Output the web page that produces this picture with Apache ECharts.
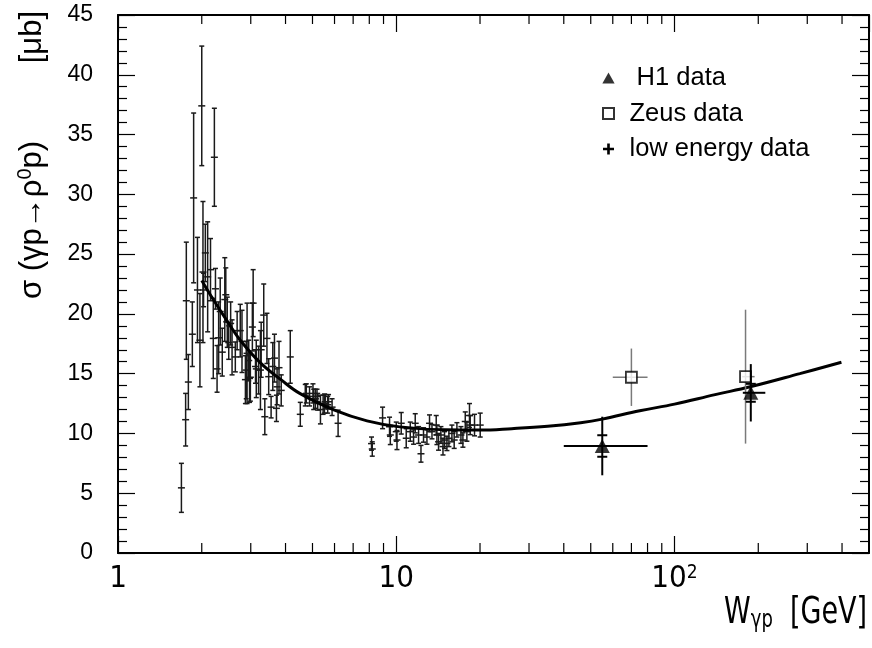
<!DOCTYPE html>
<html>
<head>
<meta charset="utf-8">
<script src="https://cdn.jsdelivr.net/npm/echarts@6/dist/echarts.min.js"></script>
<style>
html, body { margin: 0; padding: 0; background: #fff; }
#chart { width: 872px; height: 648px; }
</style>
</head>
<body>
<div id="chart"></div>
<script>
// low energy data: W [GeV], sigma [mub], error
const lowW = [1.69, 1.75, 1.76, 1.79, 1.85, 1.87, 1.93, 1.97, 2.00, 2.02, 2.03, 2.06, 2.10, 2.15, 2.20, 2.22, 2.24, 2.27, 2.30, 2.33,
  2.37, 2.42, 2.44, 2.47, 2.50, 2.54, 2.57, 2.64, 2.68, 2.75, 2.79, 2.87, 2.89, 2.91, 2.95, 2.97, 2.99, 3.04, 3.06, 3.12,
  3.14, 3.20, 3.25, 3.27, 3.34, 3.37, 3.43, 3.48, 3.55, 3.60, 3.65, 3.71, 3.73, 3.79, 3.86, 4.16, 4.52, 4.71, 4.75, 4.88,
  5.02, 5.05, 5.12, 5.19, 5.22, 5.34, 5.46, 5.52, 5.56, 5.67, 5.71, 5.88, 6.18, 8.15, 8.20, 8.93, 9.46, 9.52, 10.0, 10.06,
  10.42, 10.86, 11.23, 11.54, 11.70, 12.03, 12.27, 12.53, 12.89, 13.17, 13.44, 13.92, 14.0, 14.19, 14.47, 14.72, 14.91, 15.21, 15.46, 15.85,
  16.15, 16.52, 17.08, 17.36, 17.70, 17.94, 18.33, 18.44, 19.11, 20.03];
const lowSig = [5.45, 11.15, 21.1, 14.3, 18.3, 29.7, 22.0, 17.8, 37.4, 23.5, 22.0, 25.1, 23.1, 23.7, 17.95, 33.1, 22.1, 15.4, 18.0, 20.2,
  16.8, 21.2, 21.6, 19.3, 17.6, 19.2, 17.2, 16.4, 18.6, 18.6, 17.7, 14.5, 15.3, 16.7, 16.1, 14.6, 14.7, 18.9, 20.9, 15.6,
  15.4, 15.3, 15.3, 17.0, 19.9, 11.4, 17.95, 14.75, 12.2, 15.6, 16.3, 12.1, 13.9, 15.5, 13.6, 16.4, 11.6, 13.2, 13.35, 13.1,
  13.35, 12.85, 12.9, 13.1, 12.65, 12.0, 12.4, 12.5, 12.65, 12.4, 12.65, 12.2, 10.85, 9.15, 8.7, 11.3, 10.56, 9.87, 10.15, 9.45,
  10.85, 9.6, 10.15, 9.7, 10.85, 9.87, 8.3, 9.87, 9.7, 10.85, 10.15, 10.7, 9.87, 9.3, 9.87, 8.9, 9.45, 9.17, 9.6, 10.0,
  9.45, 10.3, 9.87, 9.45, 11.0, 10.15, 11.5, 10.7, 10.7, 10.7];
const lowErr = [2.05, 2.2, 4.9, 2.3, 2.7, 7.1, 4.4, 3.9, 5.0, 5.9, 1.4, 2.4, 4.6, 2.6, 3.35, 4.1, 1.7, 1.95, 3.0, 2.8,
  2.0, 3.5, 2.25, 2.1, 1.4, 1.8, 2.3, 1.25, 1.6, 2.2, 2.6, 2.0, 2.4, 4.2, 1.7, 2.0, 2.0, 2.0, 2.8, 1.4,
  2.4, 2.0, 3.3, 2.3, 2.6, 1.5, 2.1, 1.5, 0.9, 2.0, 2.0, 1.1, 1.5, 2.2, 1.3, 2.2, 1.0, 0.9, 0.8, 0.8,
  0.8, 0.85, 0.8, 0.6, 0.7, 1.2, 0.8, 0.8, 0.6, 0.7, 0.6, 0.7, 1.1, 0.55, 0.6, 0.9, 0.8, 0.8, 0.8, 0.8,
  0.9, 0.8, 0.8, 0.6, 0.8, 0.7, 0.7, 0.6, 0.6, 0.7, 0.6, 0.8, 0.8, 0.7, 0.7, 0.7, 0.7, 0.6, 0.7, 0.7,
  0.7, 0.6, 0.7, 0.6, 0.8, 0.8, 1.0, 0.8, 0.9, 1.0];

// H1 data
const h1W = [55, 188];
const h1WLo = [40, 176];
const h1WHi = [80, 212];
const h1Sig = [8.95, 13.4];
const h1Stat = [0.9, 0.75];
const h1Tot = [2.45, 2.4];

// Zeus data
const zeusW = [70, 180];
const zeusWLo = [60, 175];
const zeusWHi = [80, 194];
const zeusSig = [14.7, 14.75];
const zeusErr = [2.4, 5.6];

// fit curve
const fitW = [2.0, 2.2, 2.5, 2.75, 3.25, 3.85, 4.5, 6.0, 7.85, 10.3, 15, 20, 26, 35, 46, 55, 75, 100, 140, 187, 282, 398];
const fitSig = [22.8, 21.2, 19.2, 17.8, 15.9, 14.5, 13.35, 11.95, 11.05, 10.55, 10.3, 10.28, 10.4, 10.6, 10.9, 11.2, 11.9, 12.45, 13.25, 13.9, 15.0, 15.95];

// axes
const xMin = 1, xMax = 500, yMin = 0, yMax = 45;
const minorTicks = [2, 3, 4, 5, 6, 7, 8, 9, 20, 30, 40, 50, 60, 70, 80, 90, 200, 300, 400];
const xLabels = {1: '{b|1}', 10: '{b|10}', 100: '{b|10}{s|2}'};

const sans = "'Liberation Sans', Arial, sans-serif";
const narrow = "'Liberation Sans Narrow', 'DejaVu Sans Condensed', 'Liberation Sans', sans-serif";

const chart = echarts.init(document.getElementById('chart'));

function line(x1, y1, x2, y2, color, w) {
  return {type: 'line', shape: {x1, y1, x2, y2}, style: {stroke: color, lineWidth: w}};
}

function renderLow(params, api) {
  const w = api.value(0), s = api.value(1), e = api.value(2);
  const c = api.coord([w, s]);
  const t = api.coord([w, s + e]);
  const b = api.coord([w, s - e]);
  const col = '#1a1a1a';
  return {type: 'group', children: [
    line(c[0], t[1], c[0], b[1], col, 1.5),
    line(c[0] - 2.5, t[1], c[0] + 2.5, t[1], col, 1.5),
    line(c[0] - 2.5, b[1], c[0] + 2.5, b[1], col, 1.5),
    line(c[0] - 3.5, c[1], c[0] + 3.5, c[1], col, 1.5)
  ]};
}

function renderH1(params, api) {
  const i = params.dataIndex;
  const w = h1W[i], s = h1Sig[i];
  const c = api.coord([w, s]);
  const l = api.coord([h1WLo[i], s]), r = api.coord([h1WHi[i], s]);
  const t = api.coord([w, s + h1Tot[i]]), b = api.coord([w, s - h1Tot[i]]);
  const st = api.coord([w, s + h1Stat[i]]), sb = api.coord([w, s - h1Stat[i]]);
  return {type: 'group', children: [
    line(l[0], c[1], r[0], c[1], '#000', 2),
    line(c[0], t[1], c[0], b[1], '#000', 2),
    line(c[0] - 5, st[1], c[0] + 5, st[1], '#000', 2),
    line(c[0] - 5, sb[1], c[0] + 5, sb[1], '#000', 2)
  ]};
}

function renderZeus(params, api) {
  const i = params.dataIndex;
  const w = zeusW[i], s = zeusSig[i];
  const c = api.coord([w, s]);
  const l = api.coord([zeusWLo[i], s]), r = api.coord([zeusWHi[i], s]);
  const t = api.coord([w, s + zeusErr[i]]), b = api.coord([w, s - zeusErr[i]]);
  return {type: 'group', children: [
    line(l[0], c[1], r[0], c[1], '#7a7a7a', 1.5),
    line(c[0], t[1], c[0], b[1], '#7a7a7a', 1.5)
  ]};
}

function renderMinor(params, api) {
  const v = api.value(0);
  const b = api.coord([v, yMin]);
  const t = api.coord([v, yMax]);
  return {type: 'group', children: [
    line(b[0], b[1], b[0], b[1] - 10, '#000', 1.2),
    line(t[0], t[1], t[0], t[1] + 9, '#000', 1.2)
  ]};
}

const xAxisBase = (pos, labels) => ({
  type: 'log', logBase: 10, min: xMin, max: xMax, position: pos,
  axisLine: {show: true, onZero: false, lineStyle: {color: '#000', width: 2}},
  axisTick: {show: true, inside: true, length: 17, lineStyle: {color: '#000', width: 1.2}},
  axisLabel: {
    show: labels, color: '#000', margin: 11,
    showMinLabel: true, showMaxLabel: false,
    formatter: v => xLabels[Math.round(v)] || '',
    rich: {
      b: {fontSize: 31, fontFamily: narrow, color: '#000', lineHeight: 30, padding: [8, 0, 0, 0], verticalAlign: 'bottom'},
      s: {fontSize: 19, fontFamily: narrow, color: '#000', lineHeight: 19, padding: [0, 0, 19, 0], verticalAlign: 'top'}
    }
  },
  splitLine: {show: false}
});

const yAxisBase = (pos, labels) => ({
  type: 'value', min: yMin, max: yMax, interval: 5, position: pos,
  axisLine: {show: true, onZero: false, lineStyle: {color: '#000', width: 2}},
  axisTick: {show: true, inside: true, length: 17, lineStyle: {color: '#000', width: 1.2}},
  minorTick: {show: true, splitNumber: 5, length: 9, lineStyle: {color: '#000', width: 1.2}},
  axisLabel: {show: labels, color: '#000', fontSize: 23, fontFamily: sans, margin: 25},
  splitLine: {show: false}
});

const option = {
  animation: false,
  backgroundColor: '#fff',
  grid: {left: 118, right: 3, top: 15, bottom: 95},
  xAxis: [xAxisBase('bottom', true), xAxisBase('top', false)],
  yAxis: [yAxisBase('left', true), yAxisBase('right', false)],
  legend: {
    orient: 'vertical', left: 597, top: 60, itemWidth: 32, itemHeight: 11, itemGap: 9.5,
    selectedMode: false,
    textStyle: {fontSize: 25.5, fontFamily: sans, color: '#000'},
    formatter: n => n === 'H1 data' ? ' ' + n : n,
    data: [
      {name: 'H1 data', icon: 'path://M5,0L10,9H0Z', itemStyle: {color: '#000'}},
      {name: 'Zeus data', icon: 'path://M0,0H10V10H0Z', itemStyle: {color: '#fff', borderColor: '#000', borderWidth: 2}},
      {name: 'low energy data', icon: 'path://M3.8,0H6.2V10H3.8Z M0,3.8H10V6.2H0Z', itemStyle: {color: '#000'}}
    ]
  },
  graphic: [
    {
      type: 'text', x: 48, y: 11, rotation: Math.PI / 2,
      style: {
        text: '{m|σ (γp→ρ}{s|0}{m|p)         [μb]}',
        align: 'right', verticalAlign: 'bottom',
        rich: {
          m: {fontSize: 31, fontFamily: sans, fill: '#000', lineHeight: 33, verticalAlign: 'bottom'},
          s: {fontSize: 20, fontFamily: sans, fill: '#000', lineHeight: 20, verticalAlign: 'top', padding: [0, 0, 22, 0]}
        }
      }
    },
    {
      type: 'text', x: 867, y: 595, scaleY: 1.25,
      style: {
        text: '{m|W}{s|γp}{m|  [GeV]}',
        align: 'right', verticalAlign: 'top',
        rich: {
          m: {fontSize: 30, fontFamily: narrow, fill: '#000', lineHeight: 30, verticalAlign: 'top'},
          s: {fontSize: 20, fontFamily: narrow, fill: '#000', lineHeight: 20, verticalAlign: 'bottom', padding: [20, 0, 0, 0]}
        }
      }
    }
  ],
  series: [
    {
      name: 'minor ticks', type: 'custom', xAxisIndex: 0, yAxisIndex: 0, silent: true, z: 1,
      encode: {x: 0, y: 1},
      data: minorTicks.map(v => [v, yMin]),
      renderItem: renderMinor
    },
    {
      name: 'low energy data', type: 'custom', xAxisIndex: 0, yAxisIndex: 0, silent: true, z: 2,
      itemStyle: {color: '#000'},
      encode: {x: 0, y: 1},
      data: lowW.map((w, i) => [w, lowSig[i], lowErr[i]]),
      renderItem: renderLow
    },
    {
      name: 'fit', type: 'line', xAxisIndex: 0, yAxisIndex: 0, silent: true, z: 3,
      smooth: 0.4, showSymbol: false, symbol: 'none',
      lineStyle: {color: '#000', width: 3},
      data: fitW.map((w, i) => [w, fitSig[i]])
    },
    {
      name: 'zeus errors', type: 'custom', xAxisIndex: 0, yAxisIndex: 0, silent: true, z: 4,
      encode: {x: 0, y: 1},
      data: zeusW.map((w, i) => [w, zeusSig[i]]),
      renderItem: renderZeus
    },
    {
      name: 'Zeus data', type: 'scatter', xAxisIndex: 0, yAxisIndex: 0, silent: true, z: 5,
      symbol: 'rect', symbolSize: 11,
      itemStyle: {color: '#fff', borderColor: '#000', borderWidth: 1.8},
      data: zeusW.map((w, i) => [w, zeusSig[i]])
    },
    {
      name: 'h1 errors', type: 'custom', xAxisIndex: 0, yAxisIndex: 0, silent: true, z: 6,
      encode: {x: 0, y: 1},
      data: h1W.map((w, i) => [w, h1Sig[i]]),
      renderItem: renderH1
    },
    {
      name: 'H1 data', type: 'scatter', xAxisIndex: 0, yAxisIndex: 0, silent: true, z: 7,
      symbol: 'triangle', symbolSize: [15, 14],
      itemStyle: {color: '#000'},
      data: h1W.map((w, i) => [w, h1Sig[i]])
    }
  ]
};

chart.setOption(option);
</script>
</body>
</html>
